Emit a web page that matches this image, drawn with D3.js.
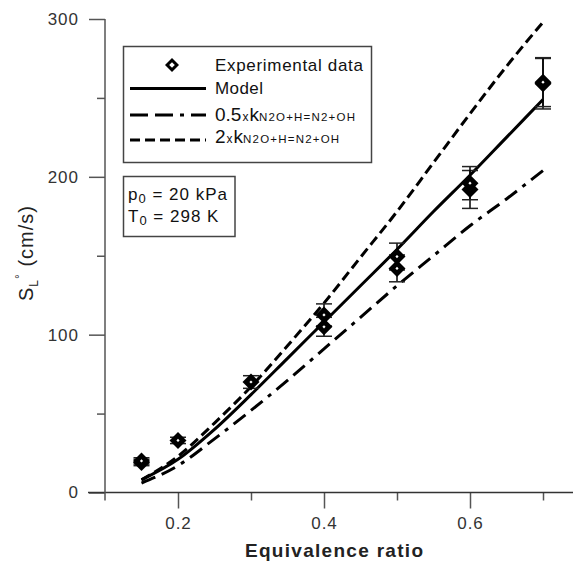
<!DOCTYPE html>
<html><head><meta charset="utf-8">
<script src="https://cdn.jsdelivr.net/npm/d3@7"></script>
<style>
body{margin:0;background:#fff}
svg{display:block}
text{font-family:"Liberation Sans",Arial,sans-serif}
</style>
</head><body>
<svg id="c" width="573" height="569"></svg>
<script>
// ---------- data ----------
const phiExp = [0.15, 0.15, 0.2, 0.3, 0.4, 0.4, 0.5, 0.5, 0.6, 0.6, 0.7, 0.7];
const slExp  = [19, 20, 33, 70, 105, 112.5, 142, 149.5, 192, 196, 259, 260];
const errExp = [2, 2, 2, 4, 6, 7, 8.5, 8.5, 12, 10.5, 16, 15.5];

const phiModel = [0.15, 0.2, 0.25, 0.3, 0.35, 0.4, 0.45, 0.5, 0.55, 0.6, 0.65, 0.7];
const slModel  = [8, 21, 40, 62, 85, 108, 131, 154, 178, 201, 225, 249];
const slHalfK  = [6, 17, 34, 52, 71, 91, 111, 131, 150, 169, 186, 204];
const slDoubleK= [8, 23, 44, 67, 93, 120, 149, 178, 209, 240, 270, 298];

const xMajorTicks = [0.2, 0.4, 0.6];
const xMinorTicks = [0.3, 0.5, 0.7];
const yMajorTicks = [0, 100, 200, 300];
const yMinorTicks = [50, 150, 250];

const xTitle = "Equivalence ratio";

// ---------- scales ----------
const svg = d3.select("#c");
const x = d3.scaleLinear().domain([0.1, 0.7]).range([105, 543]);
const y = d3.scaleLinear().domain([0, 300]).range([492.5, 19]);
const axisColor = "#555";

// ---------- axes ----------
function styleAxis(g){
  g.select(".domain").remove();
  g.selectAll(".tick line").attr("stroke", axisColor).attr("stroke-width", 1.5);
  g.selectAll(".tick text").attr("fill", "#333").attr("font-size", 17)
    .style("font-family", '"Liberation Sans",Arial,sans-serif')
    .attr("letter-spacing", 1);
}
svg.append("g").attr("transform", `translate(0,${y(0)})`)
  .call(d3.axisBottom(x).tickValues(xMajorTicks).tickSize(16).tickPadding(8).tickFormat(d3.format(".1f")))
  .call(styleAxis);
svg.append("g").attr("transform", `translate(0,${y(0)})`)
  .call(d3.axisBottom(x).tickValues(xMinorTicks).tickSize(8).tickFormat(""))
  .call(styleAxis);
svg.append("g").attr("transform", `translate(${x(0.1)},0)`)
  .call(d3.axisLeft(y).tickValues(yMajorTicks).tickSize(16).tickPadding(10).tickFormat(d3.format("d")))
  .call(styleAxis);
svg.append("g").attr("transform", `translate(${x(0.1)},0)`)
  .call(d3.axisLeft(y).tickValues(yMinorTicks).tickSize(8).tickFormat(""))
  .call(styleAxis);
// axis lines
svg.append("line").attr("x1", x(0.1) - 17).attr("x2", 573).attr("y1", y(0)).attr("y2", y(0))
  .attr("stroke", "#333").attr("stroke-width", 1.5);
svg.append("line").attr("x1", x(0.1)).attr("x2", x(0.1)).attr("y1", y(300)).attr("y2", y(0) + 8)
  .attr("stroke", axisColor).attr("stroke-width", 1.5);

// axis titles
svg.append("text").attr("x", 245).attr("y", 557)
  .attr("font-size", 19).attr("fill", "#222").attr("font-weight", "bold")
  .attr("textLength", 178).attr("lengthAdjust", "spacing")
  .text(xTitle);
const yl = svg.append("text").attr("transform", "translate(33,253) rotate(-90)")
  .attr("text-anchor", "middle").attr("font-size", 20).attr("fill", "#222").attr("letter-spacing", 1);
yl.append("tspan").text("S");
yl.append("tspan").attr("font-size", 12).attr("dy", 5).text("L");
yl.append("tspan").attr("font-size", 12).attr("dy", -14).text("°");
yl.append("tspan").attr("dy", 9).text(" (cm/s)");

// ---------- curves ----------
const line = vals => d3.line().x((d,i) => x(phiModel[i])).y(d => y(d)).curve(d3.curveMonotoneX)(vals);
const series = [
  {vals: slHalfK, dash: "15,7,15,7,4,7"},
  {vals: slDoubleK, dash: "10,5"},
  {vals: slModel, dash: null}
];
series.forEach(s => {
  svg.append("path").attr("d", line(s.vals)).attr("fill", "none")
    .attr("stroke", "#000").attr("stroke-width", 3)
    .attr("stroke-dasharray", s.dash);
});

// ---------- experimental points ----------
const diamond = (g, cx, cy, r, rin) => {
  g.append("path").attr("d", `M${cx},${cy-r}L${cx+r},${cy}L${cx},${cy+r}L${cx-r},${cy}Z`).attr("fill", "#000");
  g.append("path").attr("d", `M${cx},${cy-rin}L${cx+rin},${cy}L${cx},${cy+rin}L${cx-rin},${cy}Z`).attr("fill", "#fff");
};
const eg = svg.append("g");
phiExp.forEach((p, i) => {
  const cx = x(p), v = slExp[i], e = errExp[i];
  eg.append("line").attr("x1", cx).attr("x2", cx).attr("y1", y(v - e)).attr("y2", y(v + e))
    .attr("stroke", "#000").attr("stroke-width", 1.5);
  [v - e, v + e].forEach(c => eg.append("line").attr("x1", cx - 8).attr("x2", cx + 8)
    .attr("y1", y(c)).attr("y2", y(c)).attr("stroke", "#222").attr("stroke-width", 1.5));
});
phiExp.forEach((p, i) => diamond(eg, x(p), y(slExp[i]), 8.5, 1.6));

// ---------- legend ----------
const lg = svg.append("g");
lg.append("rect").attr("x", 123.5).attr("y", 46.5).attr("width", 248).attr("height", 116)
  .attr("fill", "#fff").attr("stroke", "#444").attr("stroke-width", 1.5);
diamond(lg, 172, 65, 7, 2.8);
lg.append("text").attr("x", 215).attr("y", 71).attr("font-size", 17).attr("fill", "#111")
  .attr("textLength", 148).attr("lengthAdjust", "spacing").text("Experimental data");
lg.append("line").attr("x1", 130).attr("x2", 206).attr("y1", 88.5).attr("y2", 88.5)
  .attr("stroke", "#000").attr("stroke-width", 3);
lg.append("text").attr("x", 215).attr("y", 94).attr("font-size", 17).attr("fill", "#111")
  .attr("textLength", 48).attr("lengthAdjust", "spacing").text("Model");
lg.append("line").attr("x1", 130).attr("x2", 206).attr("y1", 115).attr("y2", 115)
  .attr("stroke", "#000").attr("stroke-width", 3).attr("stroke-dasharray", "18,7,18,7,4,7");
lg.append("line").attr("x1", 130).attr("x2", 206).attr("y1", 140).attr("y2", 140)
  .attr("stroke", "#000").attr("stroke-width", 3).attr("stroke-dasharray", "10,5");
function kLabel(yb, pre){
  const t = lg.append("text").attr("x", 215).attr("y", yb).attr("fill", "#111");
  t.append("tspan").attr("font-size", 19).text(pre);
  t.append("tspan").attr("font-size", 12).attr("dx", 1).text("x");
  t.append("tspan").attr("font-size", 19).attr("dx", 1).text("k");
  t.append("tspan").attr("font-size", 11.5).attr("letter-spacing", 1.2).text("N2O+H=N2+OH");
}
kLabel(121, "0.5");
kLabel(143, "2");

// conditions box
lg.append("rect").attr("x", 123.5).attr("y", 176.5).attr("width", 111.5).attr("height", 60)
  .attr("fill", "#fff").attr("stroke", "#444").attr("stroke-width", 1.5);
const c1 = lg.append("text").attr("x", 128).attr("y", 200).attr("font-size", 17).attr("fill", "#111").attr("letter-spacing", 1);
c1.append("tspan").text("p");
c1.append("tspan").attr("font-size", 13).attr("dy", 3).text("0");
c1.append("tspan").attr("dy", -3).text(" = 20 kPa");
const c2 = lg.append("text").attr("x", 128).attr("y", 222).attr("font-size", 17).attr("fill", "#111").attr("letter-spacing", 1);
c2.append("tspan").text("T");
c2.append("tspan").attr("font-size", 13).attr("dy", 3).text("0");
c2.append("tspan").attr("dy", -3).text(" = 298 K");
</script>
</body></html>
